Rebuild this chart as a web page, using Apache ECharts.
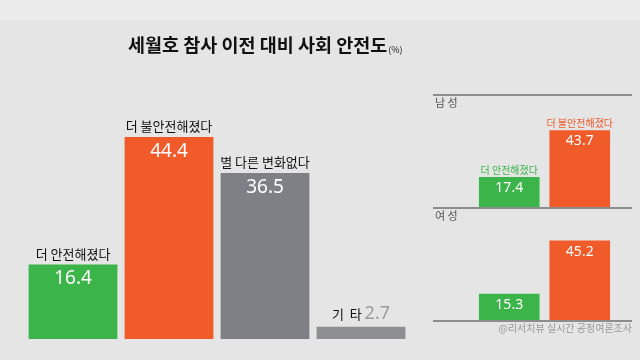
<!DOCTYPE html>
<html><head><meta charset="utf-8">
<script src="https://cdn.jsdelivr.net/npm/echarts@6/dist/echarts.min.js"></script>
<style>html,body{margin:0;padding:0;background:#e5e5e6;}#c{width:640px;height:360px;}</style>
</head><body><div id="c"></div>
<script>
var titleText = '세월호 참사 이전 대비 사회 안전도';
var categories = ['더 안전해졌다', '더 불안전해졌다', '별 다른 변화없다', '기  타'];
var totalValues = [16.4, 44.4, 36.5, 2.7];
var barColors = ['#3bb54a', '#f15a29', '#7f8085', '#8e8f93'];
var genderCats = ['더 안전해졌다', '더 불안전해졌다'];
var maleValues = [17.4, 43.7];
var femaleValues = [15.3, 45.2];
var genderColors = ['#3bb54a', '#f15a29'];
var sourceText = '@리서치뷰 실시간 공정여론조사';

var FONT = '"Noto Sans CJK KR", "Noto Sans", sans-serif';

function mainData() {
  return totalValues.map(function (v, i) { return { value: v, itemStyle: { color: barColors[i] } }; });
}
function genderData(vals) {
  return vals.map(function (v, i) { return { value: v, itemStyle: { color: genderColors[i] } }; });
}

var chart = echarts.init(document.getElementById('c'));
var option = {
  backgroundColor: '#e5e5e6',
  animation: false,
  textStyle: { fontFamily: FONT },
  grid: [
    { left: 25, right: 231, top: 111.5, bottom: 21 },
    { left: 474, right: 25, top: 119, bottom: 152 },
    { left: 474, right: 25, top: 232, bottom: 39 }
  ],
  xAxis: [
    { type: 'category', gridIndex: 0, data: categories, show: false },
    { type: 'category', gridIndex: 1, data: genderCats, show: false },
    { type: 'category', gridIndex: 2, data: genderCats, show: false }
  ],
  yAxis: [
    { type: 'value', gridIndex: 0, min: 0, max: 50, show: false },
    { type: 'value', gridIndex: 1, min: 0, max: 50, show: false },
    { type: 'value', gridIndex: 2, min: 0, max: 50, show: false }
  ],
  graphic: [
    { type: 'rect', left: 0, top: 0, shape: { width: 640, height: 20 }, style: { fill: '#ebebeb' }, z: -10 },
    { type: 'text', left: 128, top: 36, style: {
        text: '{t|' + titleText + '}{p|(%)}',
        rich: {
          t: { fontSize: 18.5, fontWeight: 'bold', fontFamily: FONT, fill: '#111', color: '#111', verticalAlign: 'bottom', lineHeight: 26 },
          p: { fontSize: 9, fontFamily: FONT, fill: '#222', color: '#222', verticalAlign: 'bottom', lineHeight: 18, padding: [0, 0, 0, 1] }
        }
      } },
    { type: 'line', shape: { x1: 433, y1: 95, x2: 632, y2: 95 }, style: { stroke: '#8c8c8c', lineWidth: 2 } },
    { type: 'line', shape: { x1: 433, y1: 208, x2: 632, y2: 208 }, style: { stroke: '#8c8c8c', lineWidth: 2 }, z: 10 },
    { type: 'line', shape: { x1: 433, y1: 321, x2: 632, y2: 321 }, style: { stroke: '#8c8c8c', lineWidth: 2 }, z: 10 },
    { type: 'text', left: 435, top: 97, style: { text: '남 성', font: '11px ' + FONT, fill: '#555' } },
    { type: 'text', left: 435, top: 210, style: { text: '여 성', font: '11px ' + FONT, fill: '#555' } },
    { type: 'text', right: 8, top: 323, style: { text: sourceText, font: '10px ' + FONT, fill: '#999' } }
  ],
  series: [
    {
      type: 'bar', xAxisIndex: 0, yAxisIndex: 0, barCategoryGap: '7.5%',
      data: mainData(),
      label: {
        show: true, position: 'insideTop', distance: 5, color: '#fff',
        fontFamily: '"Noto Sans", sans-serif', fontSize: 19,
        formatter: function (p) { return p.value < 5 ? '' : p.value.toFixed(1); }
      }
    },
    {
      type: 'bar', xAxisIndex: 0, yAxisIndex: 0, barCategoryGap: '7.5%', barGap: '-100%',
      data: totalValues.map(function (v) { return { value: v, itemStyle: { color: 'rgba(0,0,0,0)' } }; }),
      silent: true,
      label: {
        show: true, position: 'top', distance: 4, color: '#111', fontSize: 13,
        formatter: function (p) {
          return p.value < 5 ? '{n|' + p.name + '} {v|' + p.value.toFixed(1) + '}' : p.name;
        },
        rich: {
          n: { fontSize: 13, color: '#111', fontFamily: FONT },
          v: { fontSize: 18, color: '#9a9a9c', fontFamily: '"Noto Sans", sans-serif' }
        }
      }
    },
    {
      type: 'bar', xAxisIndex: 1, yAxisIndex: 1, barCategoryGap: '14%',
      data: genderData(maleValues),
      label: { show: true, position: 'insideTop', distance: 4, color: '#fff', fontSize: 14, fontFamily: '"Noto Sans", sans-serif',
        formatter: function (p) { return p.value.toFixed(1); } }
    },
    {
      type: 'bar', xAxisIndex: 1, yAxisIndex: 1, barCategoryGap: '14%', barGap: '-100%', silent: true,
      data: maleValues.map(function (v, i) { return { value: v, itemStyle: { color: 'rgba(0,0,0,0)' }, label: { color: genderColors[i] } }; }),
      label: { show: true, position: 'top', distance: 2, fontSize: 10, formatter: '{b}' }
    },
    {
      type: 'bar', xAxisIndex: 2, yAxisIndex: 2, barCategoryGap: '14%',
      data: genderData(femaleValues),
      label: { show: true, position: 'insideTop', distance: 4, color: '#fff', fontSize: 14, fontFamily: '"Noto Sans", sans-serif',
        formatter: function (p) { return p.value.toFixed(1); } }
    }
  ]
};
chart.setOption(option);
</script>
</body></html>
